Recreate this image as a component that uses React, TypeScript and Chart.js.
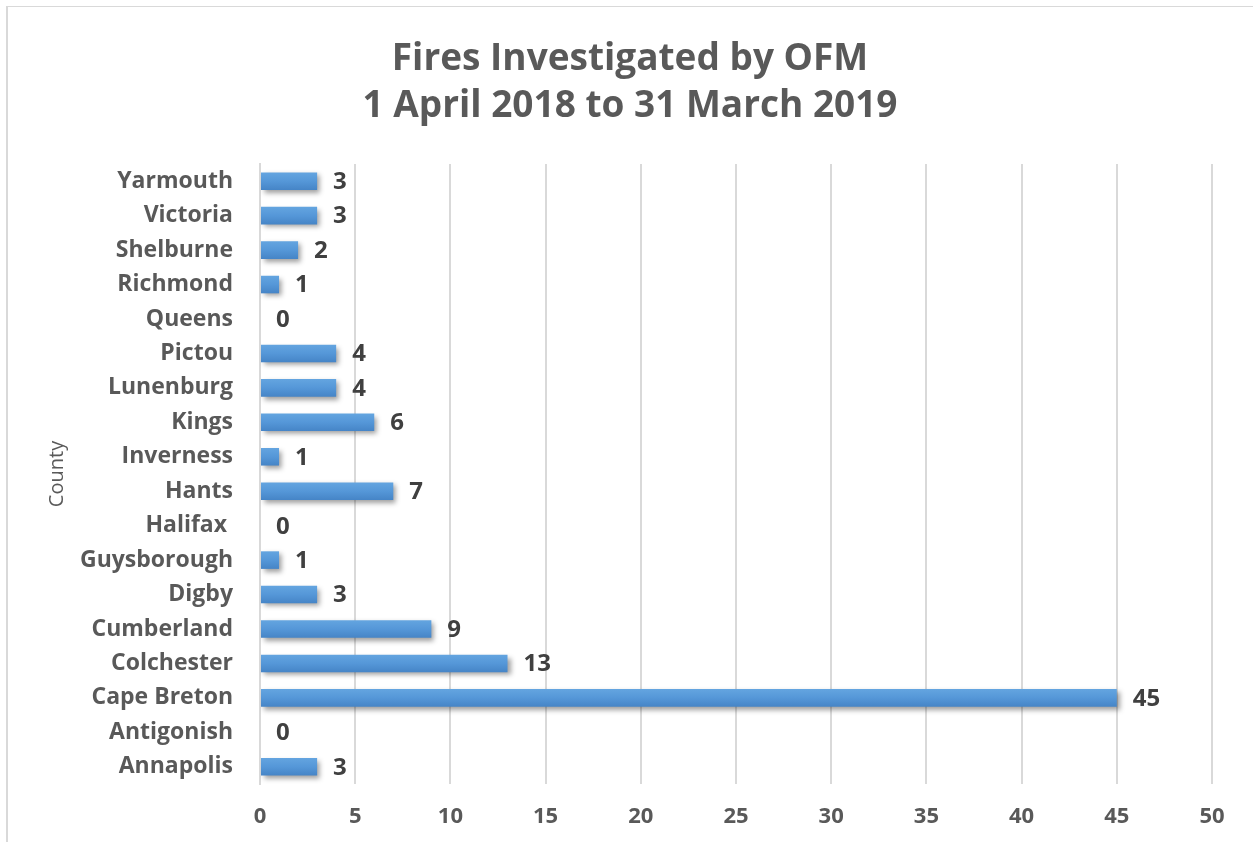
import React, { useEffect, useRef } from "react";
import { Chart, registerables } from "chart.js";

Chart.register(...registerables);

const counties = [
  "Annapolis",
  "Antigonish",
  "Cape Breton",
  "Colchester",
  "Cumberland",
  "Digby",
  "Guysborough",
  "Halifax ",
  "Hants",
  "Inverness",
  "Kings",
  "Lunenburg",
  "Pictou",
  "Queens",
  "Richmond",
  "Shelburne",
  "Victoria",
  "Yarmouth",
];
const fires = [3, 0, 45, 13, 9, 3, 1, 0, 7, 1, 6, 4, 4, 0, 1, 2, 3, 3];
const titleLines = ["Fires Investigated by OFM", "1 April 2018 to 31 March 2019"];
const axisTitle = "County";

const FONT = "'Open Sans', 'DejaVu Sans', sans-serif";

const shadowPlugin = {
  id: "barShadow",
  beforeDatasetsDraw(chart: any) {
    const ctx = chart.ctx;
    ctx.save();
    ctx.shadowColor = "rgba(0,0,0,0.38)";
    ctx.shadowBlur = 5;
    ctx.shadowOffsetX = 3;
    ctx.shadowOffsetY = 3;
  },
  afterDatasetsDraw(chart: any) {
    chart.ctx.restore();
  },
};

const labelPlugin = {
  id: "valueLabels",
  afterDraw(chart: any) {
    const ctx = chart.ctx;
    const meta = chart.getDatasetMeta(0);
    const xs = chart.scales.x;
    ctx.save();
    ctx.font = `bold 24px ${FONT}`;
    ctx.fillStyle = "#404040";
    ctx.textAlign = "left";
    ctx.textBaseline = "middle";
    meta.data.forEach((el: any, i: number) => {
      const v = chart.data.datasets[0].data[i];
      const x = xs.getPixelForValue(v) + 16;
      ctx.fillText(String(v), x, el.y + 1);
    });
    ctx.restore();
  },
};

export default function App() {
  const ref = useRef<HTMLCanvasElement | null>(null);
  useEffect(() => {
    if (!ref.current) return;
    const chart = new Chart(ref.current, {
      type: "bar",
      data: {
        labels: counties,
        datasets: [
          {
            data: fires,
            backgroundColor: (c: any) => {
              const ch = c.chart;
              const ys = ch.scales && ch.scales.y;
              if (!ys || c.dataIndex === undefined) return "#5597d8";
              const yc = ys.getPixelForValue(c.dataIndex);
              if (!isFinite(yc)) return "#5597d8";
              const g = ch.ctx.createLinearGradient(0, yc - 9, 0, yc + 9);
              g.addColorStop(0, "#64a5e0");
              g.addColorStop(0.5, "#5597d8");
              g.addColorStop(1, "#4584c6");
              return g;
            },
            borderWidth: 0,
            categoryPercentage: 1,
            barPercentage: 0.51,
          },
        ],
      },
      options: {
        indexAxis: "y",
        responsive: false,
        animation: false,
        layout: { padding: { left: 48, right: 41, top: 0, bottom: 0 } },
        plugins: {
          legend: { display: false },
          tooltip: { enabled: false },
          title: {
            display: true,
            text: titleLines,
            color: "#595959",
            font: { family: FONT, size: 37, weight: "bold", lineHeight: 1.27 },
            padding: { top: 36, bottom: 34 },
          },
        },
        scales: {
          x: {
            min: 0,
            max: 50,
            ticks: {
              stepSize: 5,
              color: "#595959",
              font: { family: FONT, size: 22, weight: "bold" },
              padding: 20,
            },
            grid: { color: "#d9d9d9", lineWidth: 2, drawTicks: false },
            border: { display: false },
            afterFit: (s: any) => {
              s.height = 58;
            },
          },
          y: {
            reverse: true,
            ticks: {
              color: "#595959",
              font: { family: FONT, size: 23, weight: "bold" },
              padding: 27,
              autoSkip: false,
            },
            grid: { display: false, drawTicks: false },
            border: { display: true, color: "#d9d9d9", width: 2 },
            title: {
              display: true,
              text: axisTitle,
              color: "#595959",
              font: { family: FONT, size: 20, weight: "normal" },
              padding: { top: -3, bottom: 0 },
            },
            afterFit: (s: any) => {
              s.width = 212;
            },
          },
        },
      },
      plugins: [shadowPlugin, labelPlugin],
    } as any);
    chart.update();
    return () => chart.destroy();
  }, []);

  return (
    <div style={{ position: "absolute", left: 0, top: 0, width: 1253, height: 842, overflow: "hidden", background: "#fff" }}>
      <canvas ref={ref} width={1253} height={842} style={{ position: "absolute", left: 0, top: 0 }} />
      <div
        style={{
          position: "absolute",
          left: 6,
          top: 6,
          width: 1300,
          height: 900,
          borderLeft: "2px solid #d9d9d9",
          borderTop: "1px solid #d9d9d9",
          pointerEvents: "none",
        }}
      />
    </div>
  );
}
